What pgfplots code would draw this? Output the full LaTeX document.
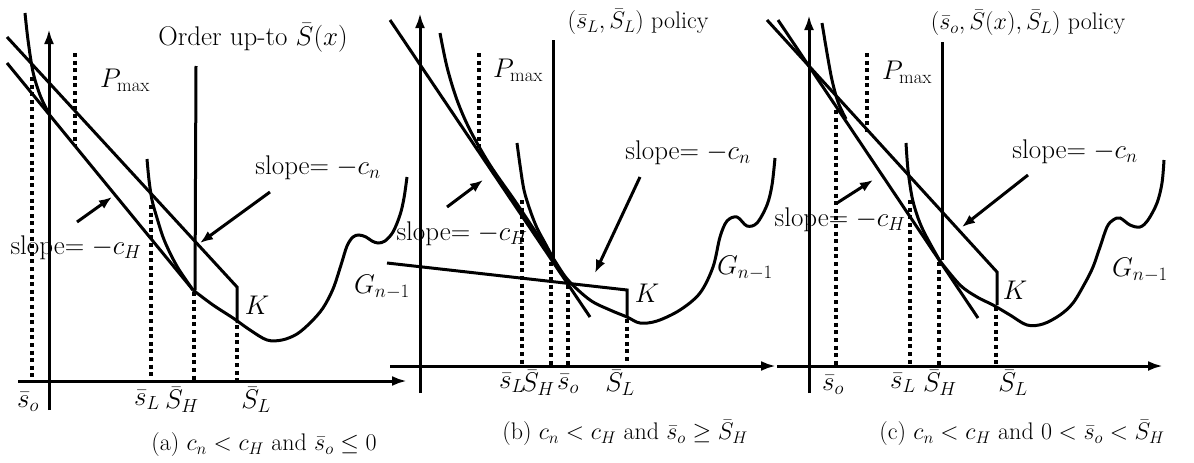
\RequirePackage{fix-cm}
\documentclass[border=0pt]{standalone}
\usepackage{pgfplots}
\pgfplotsset{compat=1.18}
\usetikzlibrary{arrows.meta}
\begin{document}
\begin{tikzpicture}[font=\fontsize{27}{31}\selectfont,
  captext/.style={font=\fontsize{24}{28}\selectfont}]
\begin{axis}[
  at={(0,0)}, anchor=south west,
  width=1194pt, height=463pt, scale only axis,
  xmin=0, xmax=1194, ymin=0, ymax=463, y dir=reverse,
  hide axis, clip=false,
  curve/.style={line width=3pt, black, no markers},
  smoothcurve/.style={curve, smooth, tension=0.55},
  dots/.style={line width=4pt, black, no markers, dash pattern=on 4pt off 3.6pt},
  axarrow/.style={curve, -{Latex[length=15pt,width=10pt]}},
  pointer/.style={curve, -{Latex[length=13pt,width=10pt]}},
]
%% ---------------- (a) ----------------
\addplot[axarrow] coordinates {(49,410) (49,29)};
\addplot[axarrow] coordinates {(18,381) (407,381)};
% slope -c_n line with the K jump
\addplot[curve] coordinates {(7,37) (237,287) (237,323)};
% slope -c_H line
\addplot[curve] coordinates {(7,63) (193,290)};
% G_{n-1}
\addplot[smoothcurve] coordinates {(25,13) (28,40) (33,72) (40,95) (48,112)};
\addplot[smoothcurve] coordinates {(193,290) (213,305) (233,318) (250,330) (267,340) (282,340)
  (297,334) (311,322) (323,308) (333,289) (341,265) (347,246) (353,237) (359,235) (366,237)
  (372,241) (378,243) (385,241) (393,232) (400,215) (404,198) (407,177)};
% curve starting at s_L
\addplot[smoothcurve] coordinates {(147,159) (149,180) (152,200) (157,218) (163,237) (170,253) (178,268) (186,280) (193,290)};
% order up-to line
\addplot[curve] coordinates {(196,66) (195,290)};
% dotted guides
\addplot[dots] coordinates {(32,77) (32,381)};
\addplot[dots] coordinates {(75,53) (75,146)};
\addplot[dots] coordinates {(151,205) (151,381)};
\addplot[dots] coordinates {(194,292) (194,381)};
\addplot[dots] coordinates {(237,325) (237,381)};
% pointers
\addplot[pointer] coordinates {(77,222) (112,197)};
\addplot[pointer] coordinates {(270,192) (200,243)};
\node at (253,38) {Order up-to $\bar S(x)$};
\node at (125,80) {$P_{\max}$};
\node at (318,168) {slope$=-c_n$};
\node at (76,248) {slope$=-c_H$};
\node at (257,305) {$K$};
\node at (382,287) {$G_{n-1}$};
\node at (28,402) {$\bar s_o$};
\node at (147,400) {$\bar s_L$};
\node at (182,400) {$\bar S_H$};
\node at (256,400) {$\bar S_L$};
\node[captext] at (264,445) {(a) $c_n<c_H$ and $\bar s_o\le 0$};
%% ---------------- (b) ----------------
\addplot[axarrow] coordinates {(420,393) (420,13)};
\addplot[axarrow] coordinates {(390,366) (776,366)};
% slope -c_H line
\addplot[curve] coordinates {(390,20) (590,317)};
% slope -c_n line with the K jump
\addplot[curve] coordinates {(387,263) (627,290) (627,317)};
% G_{n-1}
\addplot[smoothcurve] coordinates {(440,33) (447,67) (457,100) (470,130) (490,165) (515,201)
  (535,231) (553,258) (568,280) (590,300) (610,310) (627,317) (640,323) (657,321) (680,310)
  (700,293) (713,267) (720,237) (727,221) (737,217) (747,226) (757,223) (767,205) (772,185) (775,158)};
% curve starting at s_L
\addplot[smoothcurve] coordinates {(517,143) (520,165) (524,190) (530,210) (537,228) (545,243) (553,258)};
% order up-to line
\addplot[curve] coordinates {(553,40) (553,260)};
% dotted guides
\addplot[dots] coordinates {(479,53) (479,148)};
\addplot[dots] coordinates {(522,200) (522,366)};
\addplot[dots] coordinates {(551,262) (551,366)};
\addplot[dots] coordinates {(568,285) (568,366)};
\addplot[dots] coordinates {(627,319) (627,366)};
% pointers
\addplot[pointer] coordinates {(447,207) (483,180)};
\addplot[pointer] coordinates {(640,177) (595,273)};
\node[captext] at (638,22) {$(\bar s_L,\bar S_L)$ policy};
\node at (518,70) {$P_{\max}$};
\node at (688,153) {slope$=-c_n$};
\node at (462,234) {slope$=-c_H$};
\node at (647,293) {$K$};
\node at (745,268) {$G_{n-1}$};
\node at (512,383) {$\bar s_L$};
\node at (538,383) {$\bar S_H$};
\node at (568,384) {$\bar s_o$};
\node at (620,383) {$\bar S_L$};
\node[captext] at (625,433) {(b) $c_n<c_H$ and $\bar s_o\ge\bar S_H$};
%% ---------------- (c) ----------------
\addplot[axarrow] coordinates {(809,393) (809,15)};
\addplot[axarrow] coordinates {(777,366) (1163,366)};
% slope -c_n line with the K jump
\addplot[curve] coordinates {(767,20) (997,272) (997,305)};
% slope -c_H line
\addplot[curve] coordinates {(778,20) (978,318)};
% G_{n-1}
\addplot[smoothcurve] coordinates {(822,23) (827,53) (832,80) (838,102) (846,119)};
\addplot[smoothcurve] coordinates {(940,261) (960,285) (977,297) (993,305) (1010,315) (1027,325)
  (1043,324) (1060,315) (1073,303) (1085,283) (1093,267) (1100,247) (1107,227) (1113,220)
  (1120,218) (1130,225) (1140,227) (1148,220) (1157,203) (1162,183) (1164,160)};
% curve starting at s_L
\addplot[smoothcurve] coordinates {(906,143) (908,170) (912,197) (917,215) (923,230) (932,247) (940,261)};
% order up-to line
\addplot[curve] coordinates {(942,42) (942,260)};
% dotted guides
\addplot[dots] coordinates {(836,110) (836,366)};
\addplot[dots] coordinates {(867,53) (867,132)};
\addplot[dots] coordinates {(910,200) (910,366)};
\addplot[dots] coordinates {(939,262) (939,366)};
\addplot[dots] coordinates {(996,307) (996,366)};
% pointers
\addplot[pointer] coordinates {(837,203) (873,180)};
\addplot[pointer] coordinates {(1028,175) (962,227)};
\node[captext] at (1028,23) {$(\bar s_o,\bar S(x),\bar S_L)$ policy};
\node at (907,72) {$P_{\max}$};
\node at (1075,152) {slope$=-c_n$};
\node at (840,220) {slope$=-c_H$};
\node at (1015,290) {$K$};
\node at (1140,270) {$G_{n-1}$};
\node at (833,385) {$\bar s_o$};
\node at (903,383) {$\bar s_L$};
\node at (940,383) {$\bar S_H$};
\node at (1013,383) {$\bar S_L$};
\node[captext] at (1022,433) {(c) $c_n<c_H$ and $0<\bar s_o<\bar S_H$};
\end{axis}
\pgfresetboundingbox
\path (0,0) rectangle (1194pt,463pt);
\end{tikzpicture}
\end{document}
